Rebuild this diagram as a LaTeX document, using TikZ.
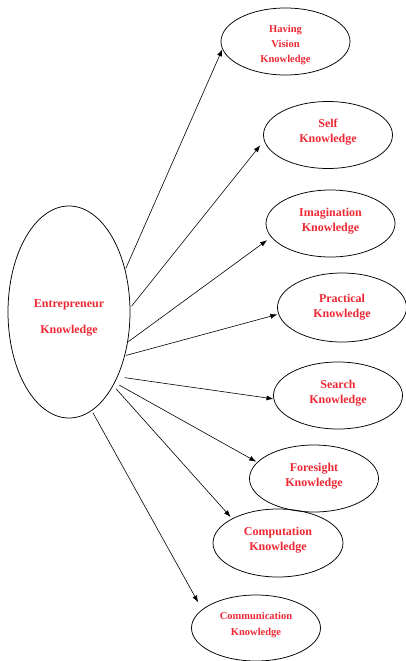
\documentclass[tikz,border=0pt]{standalone}
\usepackage{fontspec}
\setmainfont{Liberation Serif}
\usetikzlibrary{shapes.geometric,arrows.meta}
\definecolor{labelred}{RGB}{237,40,52}
\begin{document}
\begin{tikzpicture}[x=1pt,y=-1pt,
  bubble/.style={ellipse,draw=black,line width=0.75pt,inner sep=0pt,
    minimum width=129pt,minimum height=67pt},
  caption/.style={align=center,inner sep=0pt,text=labelred,
    font=\bfseries\fontsize{12}{15}\selectfont},
  smallcaption/.style={caption,font=\bfseries\fontsize{10.5}{15}\selectfont},
  link/.style={line width=0.6pt,-{Latex[length=7pt,width=5pt]}}]
\useasboundingbox (0,0) rectangle (405,661);
% central concept
\node[ellipse,draw=black,line width=0.75pt,inner sep=0pt,
  minimum width=122pt,minimum height=212pt] (E) at (69,312) {};
\node[caption,font=\bfseries\fontsize{12}{26}\selectfont] (E-t)
  at ([yshift=-6pt]E.center) {Entrepreneur\\Knowledge};
% knowledge areas
\node[bubble] (V) at (285.5,41.5) {};
\node[bubble] (S) at (328,135) {};
\node[bubble] (I) at (330.5,223.5) {};
\node[bubble,minimum height=69pt] (P) at (342,307.5) {};
\node[bubble] (R) at (338,395.5) {};
\node[bubble] (F) at (314,478.5) {};
\node[bubble,minimum width=130pt,minimum height=68pt] (C) at (278,543) {};
\node[bubble,minimum height=66pt] (M) at (256,628) {};
\node[smallcaption] (V-t) at ([yshift=-3.5pt]V.center) {Having\\Vision\\Knowledge};
\node[caption] (S-t) at ([yshift=3pt]S.center) {Self\\Knowledge};
\node[caption] (I-t) at ([yshift=2.5pt]I.center) {Imagination\\Knowledge};
\node[caption] (P-t) at ([yshift=0.5pt]P.center) {Practical\\Knowledge};
\node[caption] (R-t) at ([yshift=2.5pt]R.center) {Search\\Knowledge};
\node[caption] (F-t) at ([yshift=2.5pt]F.center) {Foresight\\Knowledge};
\node[caption] (C-t) at ([yshift=3pt]C.center) {Computation\\Knowledge};
\node[smallcaption,font=\bfseries\fontsize{10.5}{16}\selectfont] (M-t)
  at ([yshift=2.5pt]M.center) {Communication\\Knowledge};
% connectors
\draw[link,shorten <=1.5pt] (E.37.7) -- (V.187.6);
\draw[link,shorten <=2pt,shorten >=6pt] (E.4.5) -- (S.185.6);
\draw[link,shorten <=0.6pt,shorten >=5pt] (E.-27.7) -- (I.193.7);
\draw[link,shorten <=1pt,shorten >=1pt] (E.-38.8) -- (P.186.2);
\draw[link,shorten <=7pt] (E.-53.8) -- (R.183.2);
\draw[link,shorten <=5pt,shorten >=1pt] (E.-57.4) -- (F.164.1);
\draw[link,shorten <=4pt,shorten >=2pt] (E.-59.1) -- (C.152);
\draw[link,shorten <=2pt,shorten >=8pt] (E.-77.7) -- (M.161.8);
\end{tikzpicture}
\end{document}
